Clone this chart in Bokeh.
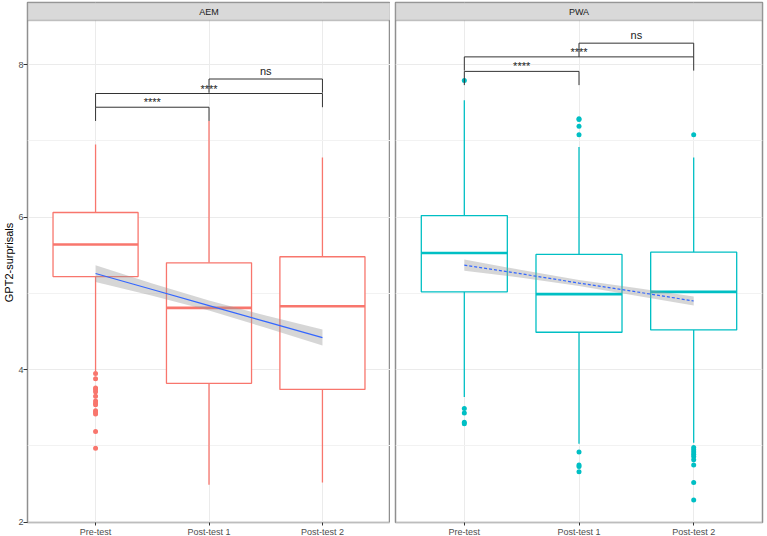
from bokeh.plotting import figure
from bokeh.layouts import row
from bokeh.models import FixedTicker, BoxAnnotation, Label, Range1d
from bokeh.embed import file_html
from bokeh.resources import INLINE
from bokeh.core.properties import value

# ---------------- data ----------------
categories = ["Pre-test", "Post-test 1", "Post-test 2"]
groups = ["AEM", "PWA"]
y_ticks = [2, 4, 6, 8]
y_minor_ticks = [3, 5, 7]
y_label = "GPT2-surprisals"

aem_q1 = [5.22, 3.82, 3.74]
aem_median = [5.64, 4.81, 4.83]
aem_q3 = [6.06, 5.40, 5.48]
aem_lower = [3.98, 2.49, 2.52]
aem_upper = [6.95, 7.26, 6.78]
aem_outliers_pre = [3.95, 3.88, 3.76, 3.74, 3.71, 3.65, 3.59, 3.56, 3.54, 3.46, 3.44, 3.42, 3.19, 2.97]
aem_outliers_post1 = []
aem_outliers_post2 = []

pwa_q1 = [5.02, 4.49, 4.52]
pwa_median = [5.53, 4.99, 5.02]
pwa_q3 = [6.02, 5.51, 5.54]
pwa_lower = [3.64, 3.03, 3.04]
pwa_upper = [7.53, 6.92, 6.78]
pwa_outliers_pre = [7.79, 3.49, 3.43, 3.31, 3.29]
pwa_outliers_post1 = [7.29, 7.28, 7.19, 7.08, 2.92, 2.75, 2.73, 2.66]
pwa_outliers_post2 = [7.08, 2.98, 2.95, 2.92, 2.89, 2.86, 2.82, 2.75, 2.52, 2.29]

fit_x = [1, 1.5, 2, 2.5, 3]
aem_fit = [5.26, 5.05, 4.84, 4.63, 4.42]
aem_fit_se = [0.11, 0.08, 0.065, 0.08, 0.105]
pwa_fit = [5.37, 5.255, 5.135, 5.02, 4.90]
pwa_fit_se = [0.075, 0.05, 0.04, 0.05, 0.06]

bracket_pairs = [(1, 2), (1, 3), (2, 3)]
bracket_labels = ["****", "****", "ns"]
aem_bracket_y = [7.44, 7.62, 7.81]
pwa_bracket_y = [7.91, 8.10, 8.28]
bracket_tip = 0.18

# ---------------- layout constants ----------------
Y_START, Y_END, STRIP_BOTTOM = 1.996, 8.813, 8.577
FONT = "Liberation Sans"
BOX_HALF = 0.375
label_lift = {"****": 5, "ns": 8}


def make_panel(name, q1, med, q3, lo, hi, outliers, fit, fit_se, br_y,
               color, dash, first):
    p = figure(
        frame_width=363 if first else 367, frame_height=520,
        x_range=Range1d(0.4, 3.6), y_range=Range1d(Y_START, Y_END),
        output_backend="svg", toolbar_location=None,
        min_border_left=26 if first else 5, min_border_right=0 if first else 3,
        min_border_top=2, min_border_bottom=14,
        background_fill_color="white", border_fill_color="white",
    )
    p.outline_line_color = "#8f8f8f"
    p.outline_line_width = 1.5

    # axes
    p.xaxis.ticker = FixedTicker(ticks=[1, 2, 3], minor_ticks=[])
    p.xaxis.major_label_overrides = {i + 1: c for i, c in enumerate(categories)}
    p.yaxis.ticker = FixedTicker(ticks=y_ticks, minor_ticks=y_minor_ticks)
    for ax in (p.xaxis[0], p.yaxis[0]):
        ax.axis_line_color = None
        ax.major_tick_line_color = "#333333"
        ax.minor_tick_line_color = None
        ax.major_tick_in = 0
        ax.major_label_text_font = FONT
        ax.major_label_text_font_size = "9px"
        ax.major_label_text_color = "#4D4D4D"
    p.xaxis.major_tick_out = 3
    p.xaxis.major_label_standoff = 1
    p.yaxis.major_tick_out = 4
    p.yaxis.major_label_standoff = 0
    if first:
        p.yaxis.axis_label = y_label
        p.yaxis.axis_label_text_font = FONT
        p.yaxis.axis_label_text_font_size = "11px"
        p.yaxis.axis_label_text_font_style = "normal"
        p.yaxis.axis_label_text_color = "#000000"
        p.yaxis.axis_label_standoff = 0
    else:
        p.yaxis.visible = False

    # grid
    p.xgrid.grid_line_color = "#EBEBEB"
    p.ygrid.grid_line_color = "#EBEBEB"
    p.ygrid.minor_grid_line_color = "#F2F2F2"
    p.xgrid.grid_line_width = 1
    p.ygrid.grid_line_width = 1

    xs = [i + 1 for i in range(len(categories))]
    # whiskers
    p.segment(x0=xs, y0=q3, x1=xs, y1=hi, line_color=color, line_width=1.3)
    p.segment(x0=xs, y0=q1, x1=xs, y1=lo, line_color=color, line_width=1.3)
    # boxes
    p.quad(left=[x - BOX_HALF for x in xs], right=[x + BOX_HALF for x in xs],
           bottom=q1, top=q3, fill_color="white", line_color=color, line_width=1.3)
    p.segment(x0=[x - BOX_HALF for x in xs], x1=[x + BOX_HALF for x in xs],
              y0=med, y1=med, line_color=color, line_width=2.6)
    # outliers
    ox, oy = [], []
    for x, outs in zip(xs, outliers):
        ox += [x] * len(outs)
        oy += outs
    p.scatter(x=ox, y=oy, size=5, color=color, line_color=None)

    # regression + ribbon
    p.varea(x=fit_x, y1=[f - s for f, s in zip(fit, fit_se)],
            y2=[f + s for f, s in zip(fit, fit_se)],
            fill_color="#999999", fill_alpha=0.4)
    p.line(x=fit_x, y=fit, line_color="#3366FF", line_width=1.2, line_dash=dash)

    # significance brackets
    bxs, bys, tx, ty, tl, toff = [], [], [], [], [], []
    for (a, b), yv, lab in zip(bracket_pairs, br_y, bracket_labels):
        bxs.append([a, a, b, b])
        bys.append([yv - bracket_tip, yv, yv, yv - bracket_tip])
        tx.append((a + b) / 2)
        ty.append(yv)
        tl.append(lab)
        toff.append(-label_lift[lab])
    p.multi_line(xs=bxs, ys=bys, line_color="#333333", line_width=1)
    p.text(x=tx, y=ty, text=tl, y_offset=toff, text_align="center",
           text_baseline="alphabetic", text_font=value(FONT),
           text_font_size="11px", text_color="#1A1A1A")

    # facet strip
    p.add_layout(BoxAnnotation(bottom=STRIP_BOTTOM, fill_color="#D9D9D9", fill_alpha=1,
                               line_color="#555555", line_width=1.5))
    p.add_layout(Label(x=2, y=(STRIP_BOTTOM + Y_END) / 2, text=name,
                       text_align="center", text_baseline="middle",
                       text_font=FONT, text_font_size="9px", text_color="#1A1A1A"))
    return p


p1 = make_panel(groups[0], aem_q1, aem_median, aem_q3, aem_lower, aem_upper,
                [aem_outliers_pre, aem_outliers_post1, aem_outliers_post2],
                aem_fit, aem_fit_se, aem_bracket_y, "#F8766D", "solid", True)
p2 = make_panel(groups[1], pwa_q1, pwa_median, pwa_q3, pwa_lower, pwa_upper,
                [pwa_outliers_pre, pwa_outliers_post1, pwa_outliers_post2],
                pwa_fit, pwa_fit_se, pwa_bracket_y, "#00BFC4", "3 2", False)

layout = row(p1, p2)
open("out.html", "w").write(file_html(layout, INLINE))
